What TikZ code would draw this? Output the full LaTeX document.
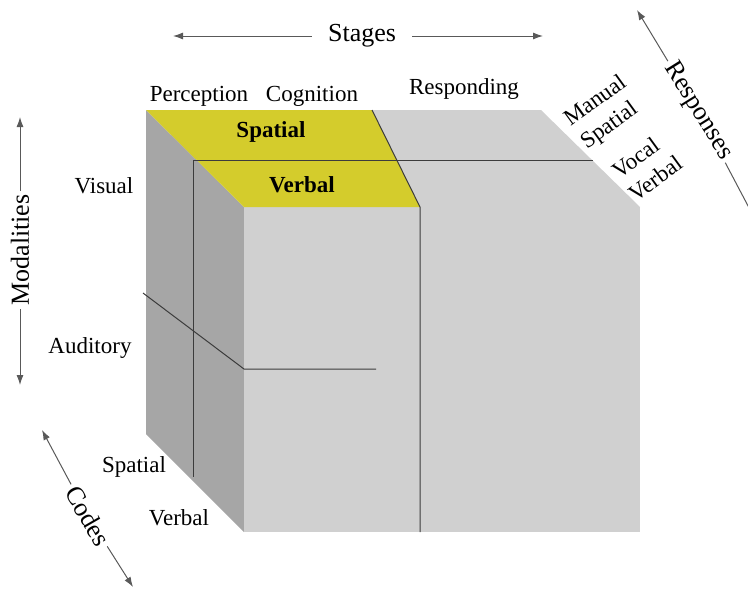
\documentclass[tikz,border=0pt]{standalone}
\usepackage{fontspec}
\setmainfont{Liberation Serif}
\usetikzlibrary{arrows.meta}

\definecolor{facefront}{RGB}{208,208,208}
\definecolor{faceside}{RGB}{166,166,166}
\definecolor{facetop}{RGB}{212,204,44}
\definecolor{cutline}{RGB}{60,60,60}

\begin{document}
\begin{tikzpicture}[x=0.5pt, y=-0.5pt, font=\fontsize{11.5}{13.5}\selectfont,
    cut/.style={cutline, line width=0.5pt},
    axis/.style={-{Latex[length=5pt,width=3.5pt]}, black!65, line width=0.5pt},
    axislabel/.style={font=\fontsize{13}{15}\selectfont, inner xsep=1.5pt},
    resplabel/.style={rotate=36, align=left, inner sep=1pt, font=\fontsize{11.5}{14}\selectfont}]
    \clip (0,0) rectangle (748,590);

    % Cube corners
    \coordinate (btl) at (146,110);
    \coordinate (btr) at (541,110);
    \coordinate (ftl) at (244,207);
    \coordinate (ftr) at (640,207);
    \coordinate (fbl) at (244,532);
    \coordinate (fbr) at (640,532);
    \coordinate (bbl) at (146,434);
    \coordinate (stageTop) at (372,110);
    \coordinate (stageBot) at (420,207);

    % Faces
    \fill[faceside] (btl) -- (ftl) -- (fbl) -- (bbl) -- cycle;
    \fill[facefront] (ftl) rectangle (fbr);
    \fill[facefront] (stageTop) -- (btr) -- (ftr) -- (stageBot) -- cycle;
    \fill[facetop] (btl) -- (stageTop) -- (stageBot) -- (ftl) -- cycle;

    % Dividing lines
    \draw[cut] (stageTop) -- (stageBot) -- (420,532);
    \draw[cut] (593,160) -- (193,160) -- (193,477);
    \draw[cut] (143,293) -- (244,369) -- (376,369);

    % Stage labels
    \node[anchor=base] (perc) at (199,101) {Perception};
    \node[anchor=base] (cogn) at (312,101) {Cognition};
    \node[anchor=base] (resp) at (464,94) {Responding};
    \node[anchor=base, font=\fontsize{11.5}{13.5}\selectfont\bfseries] (topSpatial) at (271,137) {Spatial};
    \node[anchor=base, font=\fontsize{11.5}{13.5}\selectfont\bfseries] (topVerbal) at (302,192) {Verbal};

    % Modality and code labels
    \node[anchor=base] (visual) at (104,193) {Visual};
    \node[anchor=base] (auditory) at (90,353) {Auditory};
    \node[anchor=base] (codeSpatial) at (134,472) {Spatial};
    \node[anchor=base] (codeVerbal) at (179,525) {Verbal};

    % Response labels
    \node[resplabel] (manual) at (604,113) {Manual\\Spatial};
    \node[resplabel] (vocal) at (647,167) {Vocal\\Verbal};

    % Axes
    \node[axislabel, inner xsep=8pt] (stages) at (362,36) {Stages};
    \coordinate (stagesL) at (173,36);
    \coordinate (stagesR) at (543,36);
    \draw[axis] (stages) -- (stagesL);
    \draw[axis] (stages) -- (stagesR);

    \node[axislabel, rotate=90] (modal) at (20,250) {Modalities};
    \coordinate (modalT) at (20,117);
    \coordinate (modalB) at (20,385);
    \draw[axis] (modal) -- (modalT);
    \draw[axis] (modal) -- (modalB);

    \node[axislabel, rotate=-60] (codes) at (88,516) {Codes};
    \coordinate (codesT) at (42,430);
    \coordinate (codesB) at (133,587);
    \draw[axis] (codes) -- (codesT);
    \draw[axis] (codes) -- (codesB);

    \node[axislabel, rotate=-58] (responses) at (698,111) {Responses};
    \coordinate (respT) at (637,10);
    \coordinate (respB) at (766,240);
    \draw[axis] (responses) -- (respT);
    \draw[axis] (responses) -- (respB);
\end{tikzpicture}
\end{document}
